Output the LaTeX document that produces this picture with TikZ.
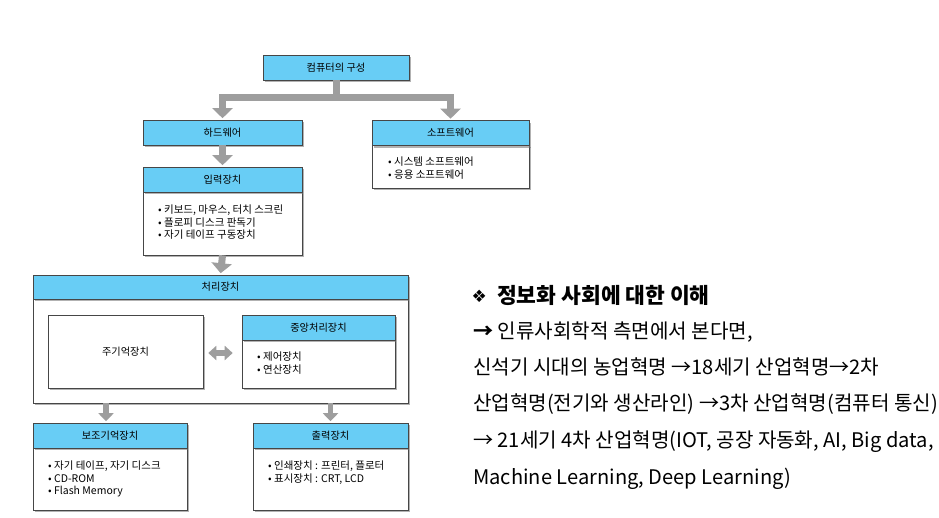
\documentclass[tikz,border=0pt]{standalone}
\usepackage{fontspec}
\setmainfont{Noto Sans CJK KR}
\newfontfamily\symfont{DejaVu Sans}
\usetikzlibrary{arrows.meta,shadows}

\definecolor{skyfill}{RGB}{104,205,245}
\definecolor{boxline}{RGB}{70,70,70}
\definecolor{arrowgray}{RGB}{158,158,158}

\begin{document}
\begin{tikzpicture}[x=1pt,y=-1pt,
  box/.style={rectangle, draw=boxline, line width=0.6pt, inner sep=0pt,
    drop shadow={shadow xshift=2.2pt, shadow yshift=-2.2pt, fill=black!55, opacity=0.55}},
  hdr/.style={box, fill=skyfill, minimum height=25pt, font=\fontsize{10.2}{12}\selectfont},
  bodybox/.style={box, fill=white},
  items/.style={anchor=north west, inner sep=0pt, align=left, font=\fontsize{10.5}{12.4}\selectfont},
  flow/.style={draw=arrowgray, line width=7pt, -{Triangle[width=20pt,length=10pt]}, shorten >=1.5pt},
  flowsmall/.style={draw=arrowgray, line width=5.5pt, -{Triangle[width=15pt,length=8pt]}, shorten >=1.5pt},
  biflow/.style={draw=arrowgray, line width=5.5pt, {Triangle[width=14pt,length=8pt]}-{Triangle[width=14pt,length=8pt]}},
  textline/.style={anchor=base west, inner sep=0pt, font=\fontsize{20.1}{24}\selectfont}
]
\useasboundingbox (0,0) rectangle (939,517);

% ---- top of the tree
\node[hdr, minimum width=146pt] (top) at (336,67.5) {컴퓨터의 구성};

% ---- software branch
\node[bodybox, minimum width=157pt, minimum height=43pt] (swbody) at (450.5,166.5) {};
\node[hdr, minimum width=157pt] (sw) at (450.5,133) {소프트웨어};
\node[items] (switems) at (388,157) {• 시스템 소프트웨어\\• 응용 소프트웨어};

% ---- hardware branch
\node[hdr, minimum width=159pt] (hw) at (222.5,132.5) {하드웨어};

\node[bodybox, minimum width=159pt, minimum height=63pt] (inbody) at (222.5,223.5) {};
\node[hdr, minimum width=159pt] (in) at (222.5,179.5) {입력장치};
\node[items] (initems) at (158,205) {• 키보드, 마우스, 터치 스크린\\• 플로피 디스크 판독기\\• 자기 테이프 구동장치};

% ---- processing unit
\node[bodybox, minimum width=375pt, minimum height=104pt] (procbody) at (220.5,351) {};
\node[hdr, minimum width=375pt, minimum height=24pt] (proc) at (220.5,287) {처리장치};

\node[bodybox, minimum width=155pt, minimum height=73pt, font=\fontsize{10.2}{12}\selectfont] (mem) at (125.5,351.5) {주기억장치};

\node[bodybox, minimum width=153pt, minimum height=48pt] (cpubody) at (318.5,364) {};
\node[hdr, minimum width=153pt] (cpu) at (318.5,327.5) {중앙처리장치};
\node[items] (cpuitems) at (257,352) {• 제어장치\\• 연산장치};

% ---- secondary storage and output
\node[bodybox, minimum width=154pt, minimum height=62pt] (auxbody) at (110,479) {};
\node[hdr, minimum width=154pt] (aux) at (110,435.5) {보조기억장치};
\node[items] (auxitems) at (48,461) {• 자기 테이프, 자기 디스크\\• CD-ROM\\• Flash Memory};

\node[bodybox, minimum width=155pt, minimum height=62pt] (outbody) at (330.5,479) {};
\node[hdr, minimum width=155pt] (out) at (330.5,435.5) {출력장치};
\node[items] (outitems) at (268,461) {• 인쇄장치 : 프린터, 플로터\\• 표시장치 : CRT, LCD};

% ---- connectors
\coordinate (split) at (336,97);
\draw[draw=arrowgray, line width=7pt] (top.south) -- (split);
\draw[flow] (split) -| (hw.north);
\draw[flow] (split) -| (sw.north);
\draw[flow] (hw.south) -- (in.north);
\draw[flow] (inbody.south) -- (proc.north);
\draw[flowsmall] (procbody.south -| 106,0) -- (aux.north -| 106,0);
\draw[flowsmall] (procbody.south -| out.north) -- (out.north);
\draw[biflow, shorten <=5pt, shorten >=9pt] (mem.east) ++(0,1.5) coordinate (memr) -- (memr -| cpubody.west);

% ---- text on the right
\node[anchor=base west, inner sep=0pt, font=\symfont\fontsize{17}{19}\selectfont] (mark) at (471.5,302) {❖};
\node[textline, font=\fontsize{21.5}{24}\selectfont\bfseries] (title) at (497,303) {정보화 사회에 대한 이해};
\node[textline] (l1) at (473,338) {\textbf{→} 인류사회학적 측면에서 본다면,};
\node[textline] (l2) at (473,374) {신석기 시대의 농업혁명 →18세기 산업혁명→2차};
\node[textline] (l3) at (473,410.5) {산업혁명(전기와 생산라인) →3차 산업혁명(컴퓨터 통신)};
\node[textline] (l4) at (473,447) {→ 21세기 4차 산업혁명(IOT, 공장 자동화, AI, Big data,};
\node[textline] (l5) at (473,484) {Machine Learning, Deep Learning)};
\end{tikzpicture}
\end{document}
